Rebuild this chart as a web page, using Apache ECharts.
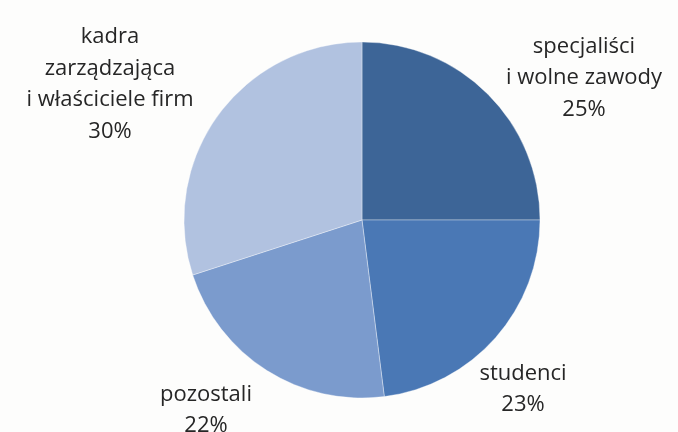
<!DOCTYPE html>
<html>
<head>
<meta charset="utf-8">
<script src="https://cdn.jsdelivr.net/npm/echarts@6/dist/echarts.min.js"></script>
<style>html,body{margin:0;padding:0;background:#fdfdfc;}#c{width:678px;height:432px;}</style>
</head>
<body>
<div id="c"></div>
<script>
const categories = ['specjaliści\ni wolne zawody', 'studenci', 'pozostali', 'kadra\nzarządzająca\ni właściciele firm'];
const values = [25, 23, 22, 30];
const colors = ['#3d6597', '#4a78b5', '#7b9bcd', '#b1c2e0'];
const labelPos = [[584, 78], [523, 389], [206, 410], [110, 84]];

const chart = echarts.init(document.getElementById('c'), null, {renderer: 'canvas'});
chart.setOption({
  backgroundColor: '#fdfdfc',
  animation: false,
  series: [{
    type: 'pie',
    center: [362, 220],
    radius: 178,
    startAngle: 90,
    clockwise: true,
    data: categories.map((c, i) => ({name: c, value: values[i], itemStyle: {color: colors[i]}})),
    itemStyle: {borderColor: 'rgba(255,255,255,0.35)', borderWidth: 1},
    label: {
      show: true,
      position: 'outside',
      formatter: '{b}\n{d}%',
      fontFamily: 'Open Sans',
      fontSize: 22,
      lineHeight: 31.5,
      color: '#262626',
      align: 'center',
      overflow: 'none',
      width: 300
    },
    labelLine: {show: false},
    labelLayout: function (p) {
      const pos = labelPos[p.dataIndex];
      return {x: pos[0], y: pos[1], align: 'center', verticalAlign: 'middle'};
    },
    emphasis: {disabled: true}
  }]
});
</script>
</body>
</html>
